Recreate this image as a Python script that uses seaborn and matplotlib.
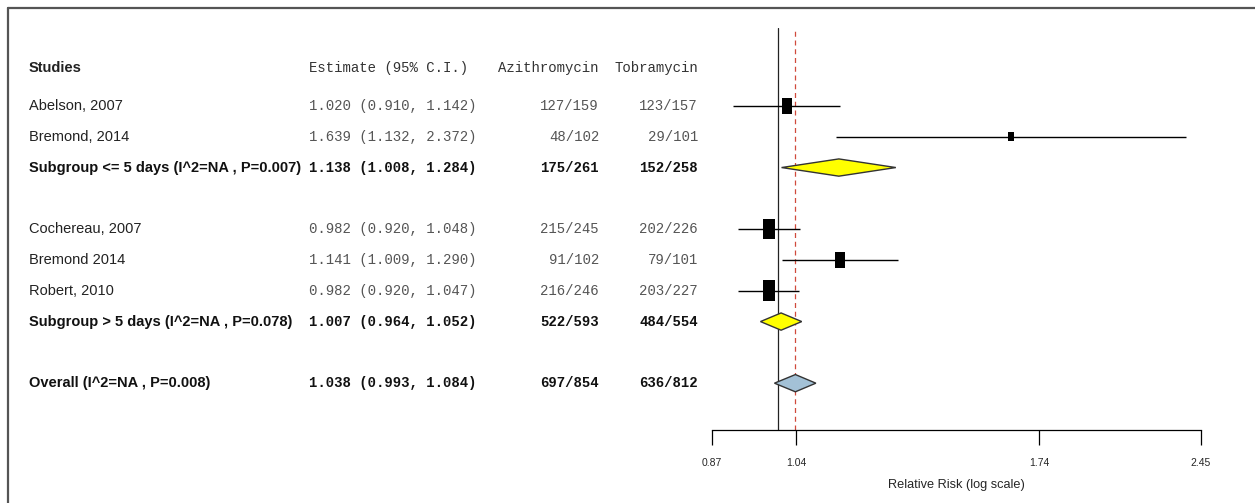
import numpy as np
import pandas as pd
import matplotlib
matplotlib.use("Agg")
import matplotlib.pyplot as plt
import seaborn as sns
from matplotlib.path import Path
from matplotlib.patches import Polygon
from matplotlib.lines import Line2D
from matplotlib.ticker import NullLocator
from matplotlib.transforms import blended_transform_factory

# individual studies
studies = ["Abelson, 2007", "Bremond, 2014", "Cochereau, 2007", "Bremond 2014", "Robert, 2010"]
study_rr = [1.020, 1.639, 0.982, 1.141, 0.982]
study_lo = [0.910, 1.132, 0.920, 1.009, 0.920]
study_hi = [1.142, 2.372, 1.048, 1.290, 1.047]
study_azi = ["127/159", "48/102", "215/245", "91/102", "216/246"]
study_tob = ["123/157", "29/101", "202/226", "79/101", "203/227"]
study_weight = [17.9, 5.6, 27.9, 17.9, 30.8]
study_rows = [1, 2, 5, 6, 7]

# pooled estimates (subgroups + overall)
pooled_labels = ["Subgroup <= 5 days (I^2=NA , P=0.007)",
                 "Subgroup > 5 days (I^2=NA , P=0.078)",
                 "Overall (I^2=NA , P=0.008)"]
pooled_rr = [1.138, 1.007, 1.038]
pooled_lo = [1.008, 0.964, 0.993]
pooled_hi = [1.284, 1.052, 1.084]
pooled_azi = ["175/261", "522/593", "697/854"]
pooled_tob = ["152/258", "484/554", "636/812"]
pooled_rows = [3, 8, 10]

tick_values = [0.87, 1.04, 1.74, 2.45]

sns.set_style("white")
plt.rcParams["font.family"] = ["Liberation Sans", "DejaVu Sans"]
MONO = ["Liberation Mono", "DejaVu Sans Mono"]

W, H = 1255, 503
fig = plt.figure(figsize=(W / 100, H / 100), dpi=100)
ax = fig.add_axes([712 / W, 1 - 430 / H, (1201 - 712) / W, (430 - 28) / H])

df = pd.DataFrame({"study": studies, "rr": study_rr, "lo": study_lo,
                   "hi": study_hi, "weight": study_weight, "row": study_rows})

# confidence intervals
ax.hlines(df["row"], df["lo"], df["hi"], color="black", lw=1, zorder=2)

# study boxes, area proportional to weight
box = Path([(-0.6, -1), (0.6, -1), (0.6, 1), (-0.6, 1), (-0.6, -1)],
           [Path.MOVETO, Path.LINETO, Path.LINETO, Path.LINETO, Path.CLOSEPOLY])
k = 7.41
sns.scatterplot(data=df, x="rr", y="row", size="weight",
                sizes=(k * min(study_weight), k * max(study_weight)),
                marker=box, color="black", edgecolor="black", linewidth=0,
                legend=False, ax=ax, zorder=3)

# diamonds
diamond_colors = ["#ffff00", "#ffff00", "#a3c1d6"]
for rr, lo, hi, r, c in zip(pooled_rr, pooled_lo, pooled_hi, pooled_rows, diamond_colors):
    h = 0.28
    ax.add_patch(Polygon([(lo, r), (rr, r - h), (hi, r), (rr, r + h)],
                         closed=True, facecolor=c, edgecolor="#333333",
                         lw=1, zorder=3))

# reference lines
ax.axvline(1, color="#222222", lw=0.9, zorder=1)
ax.axvline(pooled_rr[-1], color="#d04a3c", lw=0.9, ls=(0, (4, 3)), zorder=1)

ax.set_xscale("log")
ax.set_xlim(tick_values[0], tick_values[-1])
ax.set_ylim(11.52, -1.53)
ax.set_xticks(tick_values)
ax.set_xticklabels([f"{v:.2f}" for v in tick_values])
ax.xaxis.set_minor_locator(NullLocator())
ax.set_yticks([])
ax.set_ylabel("")
ax.tick_params(axis="x", direction="out", length=11, width=0.9,
               color="black", labelsize=7.5, pad=9, bottom=True)
for s in ["left", "top", "right"]:
    ax.spines[s].set_visible(False)
ax.spines["bottom"].set_color("black")
ax.spines["bottom"].set_linewidth(0.9)
ax.set_xlabel("Relative Risk (log scale)", fontsize=9.2, labelpad=8)
ax.set_facecolor("none")

# table columns
tr = blended_transform_factory(fig.transFigure, ax.transData)
x_name, x_est, x_azi, x_tob = 29 / W, 309 / W, 599 / W, 698 / W
hdr = -0.23

ax.text(x_name, hdr, "Studies", transform=tr, fontsize=10.5,
        fontweight="bold", color="#222222", va="center", ha="left")
ax.text(x_est, hdr, "Estimate (95% C.I.)", transform=tr, family=MONO,
        fontsize=10.1, color="#333333", va="center", ha="left")
ax.text(x_azi, hdr, "Azithromycin", transform=tr, family=MONO,
        fontsize=10.1, color="#333333", va="center", ha="right")
ax.text(x_tob, hdr, "Tobramycin", transform=tr, family=MONO,
        fontsize=10.1, color="#333333", va="center", ha="right")

for name, rr, lo, hi, a, t, r in zip(studies, study_rr, study_lo, study_hi,
                                     study_azi, study_tob, study_rows):
    ax.text(x_name, r, name, transform=tr, fontsize=10.5, color="#222222",
            va="center", ha="left")
    ax.text(x_est, r, f"{rr:.3f} ({lo:.3f}, {hi:.3f})", transform=tr,
            family=MONO, fontsize=10.1, color="#555555", va="center", ha="left")
    ax.text(x_azi, r, a, transform=tr, family=MONO, fontsize=10.1,
            color="#555555", va="center", ha="right")
    ax.text(x_tob, r, t, transform=tr, family=MONO, fontsize=10.1,
            color="#555555", va="center", ha="right")

for name, rr, lo, hi, a, t, r in zip(pooled_labels, pooled_rr, pooled_lo, pooled_hi,
                                     pooled_azi, pooled_tob, pooled_rows):
    ax.text(x_name, r, name, transform=tr, fontsize=10.5, fontweight="bold",
            color="#111111", va="center", ha="left")
    ax.text(x_est, r, f"{rr:.3f} ({lo:.3f}, {hi:.3f})", transform=tr,
            family=MONO, fontsize=10.1, fontweight="bold", color="#111111",
            va="center", ha="left")
    ax.text(x_azi, r, a, transform=tr, family=MONO, fontsize=10.1,
            fontweight="bold", color="#111111", va="center", ha="right")
    ax.text(x_tob, r, t, transform=tr, family=MONO, fontsize=10.1,
            fontweight="bold", color="#111111", va="center", ha="right")

# frame lines (top and left)
fig.add_artist(Line2D([8 / W, 1], [1 - 8 / H, 1 - 8 / H], transform=fig.transFigure,
                      color="#555555", lw=1.6))
fig.add_artist(Line2D([8 / W, 8 / W], [0, 1 - 8 / H], transform=fig.transFigure,
                      color="#555555", lw=1.6))

fig.savefig("out.png", dpi=100)
